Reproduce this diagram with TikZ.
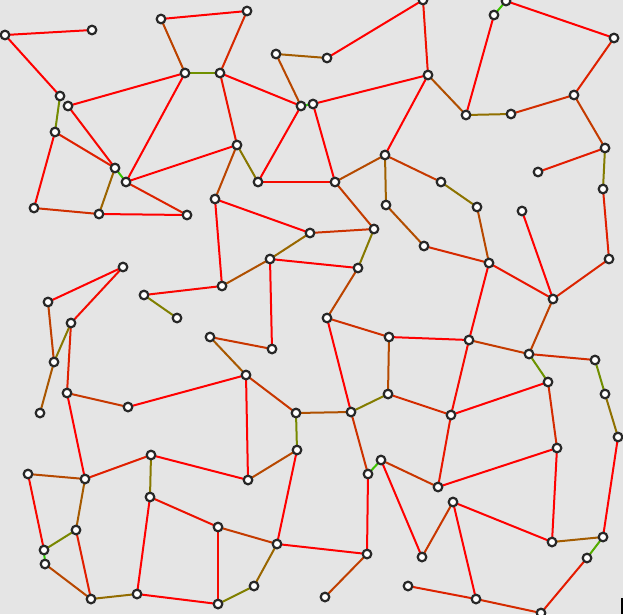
\documentclass[tikz,border=0pt]{standalone}
\pgfdeclarelayer{bg}
\pgfsetlayers{bg,main}
\definecolor{bgc}{RGB}{229,229,229}
\definecolor{ring}{RGB}{40,40,40}
\tikzset{
  dot/.style={circle,draw=ring,fill=white,line width=2.2pt,minimum size=8.6pt,inner sep=0pt},
  edgeline/.style={line width=2pt}
}
\newcommand\edg[2]{%
  \pgfpointdiff{\pgfpointanchor{#1}{center}}{\pgfpointanchor{#2}{center}}%
  \pgfgetlastxy{\edgdx}{\edgdy}%
  \pgfmathsetmacro\edgp{min(100,veclen(\edgdx,\edgdy)*1.25)}%
  \begin{pgfonlayer}{bg}\draw[edgeline,red!\edgp!green] (#1.center) -- (#2.center);\end{pgfonlayer}%
}
\begin{document}
\begin{tikzpicture}[x=1pt,y=-1pt]
\useasboundingbox (0,0) rectangle (623,614);
\begin{pgfonlayer}{bg}
\fill[bgc] (0,0) rectangle (623,614);
\end{pgfonlayer}
\foreach \n/\x/\y in {
 1/5/35, 2/92/30, 3/161/19, 4/247/11, 5/185/73, 6/220/73, 7/60/96, 8/68/106,
 9/55/132, 10/115/168, 11/126/182, 12/34/208, 13/99/214, 14/187/215, 15/215/199,
 16/237/145, 17/258/182, 18/276/54, 19/327/58, 20/301/106, 21/313/104, 22/335/182,
 23/385/155, 24/386/205, 25/423/0, 26/506/1, 27/494/15, 28/614/38, 29/428/75,
 30/466/115, 31/511/114, 32/574/95, 33/605/148, 34/538/172, 35/603/189, 36/441/182,
 37/477/207, 38/522/211, 39/310/233, 40/374/229, 41/270/259, 42/222/286, 43/358/268,
 44/327/318, 45/210/337, 46/272/349, 47/389/337, 48/246/375, 49/388/394, 50/296/413,
 51/351/412, 52/424/246, 53/489/263, 54/609/259, 55/553/299, 56/469/340, 57/529/354,
 58/595/360, 59/548/382, 60/605/394, 61/451/415, 62/123/267, 63/48/302, 64/71/323,
 65/144/295, 66/177/318, 67/54/362, 68/67/393, 69/128/407, 70/40/413, 71/151/455,
 72/28/474, 73/85/479, 74/150/497, 75/76/530, 76/44/550, 77/45/564, 78/91/599,
 79/137/594, 80/218/527, 81/218/604, 82/297/450, 83/248/480, 84/368/474, 85/381/460,
 86/277/544, 87/367/554, 88/254/586, 89/325/597, 90/408/586, 91/557/448, 92/618/437,
 93/438/487, 94/453/502, 95/552/542, 96/603/537, 97/587/558, 98/422/557, 99/476/599,
 100/541/613}
 \node[dot] (n\n) at (\x,\y) {};
\foreach \a/\b in {
 1/2, 1/7, 7/9, 8/5, 8/10, 9/10, 9/12, 10/11, 10/13, 11/5, 11/16, 11/14, 12/13, 13/14,
 3/5, 3/4, 5/6, 4/6, 6/20, 6/16, 18/19, 18/20, 19/25, 20/21, 20/17, 21/29, 21/22,
 16/17, 16/15, 17/22, 22/23, 22/40, 23/24, 23/29, 23/36, 24/52, 15/39, 15/42,
 25/29, 26/27, 26/28, 27/30, 29/30, 30/31, 31/32, 32/28, 32/33, 33/34, 33/35, 35/54,
 36/37, 37/53, 38/55, 52/53, 53/55, 54/55, 53/56, 55/57, 47/56, 56/57, 56/61, 57/58,
 57/59, 58/60, 59/91, 60/92, 49/61, 61/59, 62/63, 62/64, 63/67, 64/67, 64/68, 67/70,
 65/66, 65/42, 68/69, 69/48, 68/73, 45/46, 45/48, 39/40, 39/41, 41/42, 41/43, 41/46,
 40/43, 43/44, 44/47, 44/51, 47/49, 48/83, 48/50, 50/51, 49/51, 71/73, 71/83, 71/74,
 72/73, 72/76, 73/75, 75/76, 75/78, 76/77, 77/78, 78/79, 79/74, 79/81, 74/80,
 50/82, 51/84, 82/83, 82/86, 84/85, 84/87, 85/98, 85/93, 80/86, 80/81, 81/88, 86/88,
 86/87, 87/89, 90/99, 61/93, 93/91, 91/95, 92/96, 94/98, 94/95, 94/99, 95/96, 96/97,
 97/100, 99/100}
 \edg{n\a}{n\b};
\fill[black] (621.3,598) rectangle (622.6,614);
\end{tikzpicture}
\end{document}
